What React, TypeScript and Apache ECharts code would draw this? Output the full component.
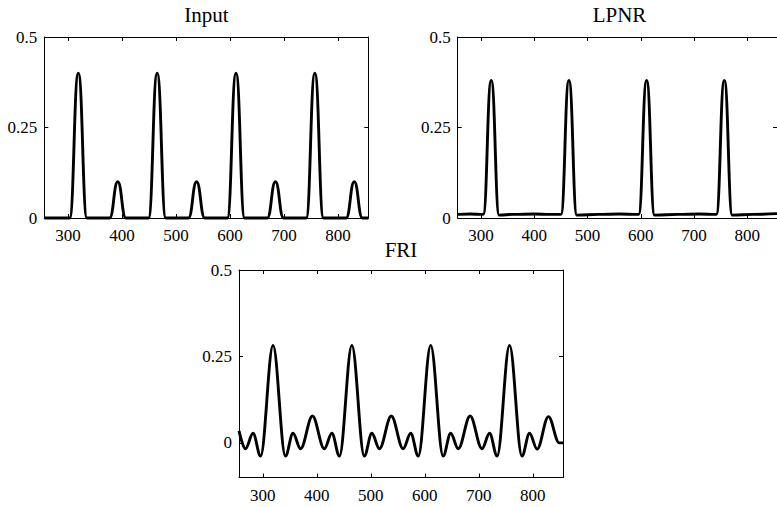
import { useEffect, useRef } from 'react';
import * as echarts from 'echarts';

// ---- data ----
const xTicks = [300, 400, 500, 600, 700, 800];
const yTicks = [0, 0.25, 0.5];
const xMin = 256;
const xMax = 856;
const topYRange = [0, 0.5];
const friYRange = [-0.1, 0.5];
const titles = ['Input', 'LPNR', 'FRI'];

// Input: Gaussian pulses, tall (0.4) and small (0.1)
const inputData: [number, number][] = [
  [256, 0], [303, 0], [319, 0.4], [335, 0],
  [377, 0], [392, 0.1], [407, 0],
  [449, 0], [465, 0.4], [481, 0],
  [523, 0], [538, 0.1], [553, 0],
  [595, 0], [611, 0.4], [627, 0],
  [669, 0], [684, 0.1], [699, 0],
  [741, 0], [757, 0.4], [773, 0],
  [815, 0], [830, 0.1], [845, 0], [856, 0],
];

// LPNR: four pulses on a slightly raised baseline
const lpnrData: [number, number][] = [
  [256, 0.01], [280, 0.011], [304, 0.01], [319, 0.38], [334, 0.008],
  [360, 0.01], [400, 0.011], [430, 0.01], [450, 0.01], [465, 0.38], [480, 0.008],
  [520, 0.01], [560, 0.011], [596, 0.01], [611, 0.38], [626, 0.008],
  [670, 0.01], [710, 0.011], [742, 0.01], [757, 0.38], [772, 0.008],
  [810, 0.01], [856, 0.012],
];

// FRI: oscillating reconstruction (extrema)
const friData: [number, number][] = [
  [256, 0.035], [268, -0.017], [282, 0.028], [296, -0.038], [319, 0.282],
  [342, -0.038], [356, 0.028], [370, -0.017], [392, 0.078], [414, -0.017],
  [428, 0.028], [442, -0.038], [465, 0.282], [488, -0.038], [502, 0.028],
  [516, -0.017], [538, 0.078], [560, -0.017], [574, 0.028], [588, -0.038],
  [611, 0.282], [634, -0.038], [648, 0.028], [662, -0.017], [684, 0.078],
  [706, -0.017], [720, 0.028], [734, -0.038], [757, 0.282], [780, -0.038],
  [794, 0.028], [808, -0.018], [829, 0.076], [849, 0.0], [856, 0.0],
];

const FONT = 'Liberation Serif';

export default function App() {
  const ref = useRef<HTMLDivElement>(null);

  useEffect(() => {
    if (!ref.current) return;
    const chart = echarts.init(ref.current, null, { renderer: 'svg' });

    const grids = [
      { left: 44.3, top: 37, width: 324, height: 181 },
      { left: 457.7, top: 37, width: 324, height: 181 },
      { left: 239, top: 270, width: 324, height: 207.5 },
    ];
    const yRanges = [topYRange, topYRange, friYRange];
    const datasets = [inputData, lpnrData, friData];
    const smooths = [0.5, 0.5, 0.36];
    const titlePos = [
      [206.5, 15],
      [619.5, 15],
      [401, 250],
    ];

    const axisLine = { show: true, onZero: false, lineStyle: { color: '#000', width: 1 } };
    const tickBase = { show: true, inside: true, length: 4, lineStyle: { color: '#000', width: 1 } };
    const labelBase = {
      color: '#000', fontFamily: FONT, fontSize: 17, fontWeight: 'normal',
    };

    const xAxis: any[] = [];
    const yAxis: any[] = [];
    const series: any[] = [];
    const graphic: any[] = [];

    grids.forEach((_, i) => {
      xAxis.push({
        type: 'value', gridIndex: i, position: 'bottom', min: xMin, max: xMax,
        axisLine, splitLine: { show: false },
        axisTick: { ...tickBase, customValues: xTicks },
        axisLabel: { ...labelBase, margin: 9, customValues: xTicks },
      });
      xAxis.push({
        type: 'value', gridIndex: i, position: 'top', min: xMin, max: xMax,
        axisLine, splitLine: { show: false },
        axisTick: { ...tickBase, customValues: xTicks },
        axisLabel: { show: false },
      });
      yAxis.push({
        type: 'value', gridIndex: i, position: 'left', min: yRanges[i][0], max: yRanges[i][1],
        axisLine, splitLine: { show: false },
        axisTick: { ...tickBase, customValues: yTicks },
        axisLabel: { ...labelBase, margin: 7, customValues: yTicks },
      });
      yAxis.push({
        type: 'value', gridIndex: i, position: 'right', min: yRanges[i][0], max: yRanges[i][1],
        axisLine, splitLine: { show: false },
        axisTick: { ...tickBase, customValues: yTicks },
        axisLabel: { show: false },
      });
      series.push({
        type: 'line', name: titles[i], xAxisIndex: i * 2, yAxisIndex: i * 2,
        data: datasets[i], showSymbol: false, symbol: 'none',
        smooth: smooths[i], smoothMonotone: 'x', clip: false,
        lineStyle: { color: '#000', width: 2.9 },
        emphasis: { disabled: true },
      });
      graphic.push({
        type: 'text', x: titlePos[i][0], y: titlePos[i][1],
        style: {
          text: titles[i], fill: '#000', fontFamily: FONT, fontSize: 21,
          align: 'center', verticalAlign: 'middle',
          textAlign: 'center', textVerticalAlign: 'middle',
        },
      });
    });

    chart.setOption({
      animation: false,
      backgroundColor: '#fff',
      textStyle: { fontFamily: FONT, color: '#000' },
      grid: grids,
      xAxis,
      yAxis,
      series,
      graphic,
    });

    return () => chart.dispose();
  }, []);

  return (
    <div
      ref={ref}
      style={{ position: 'absolute', left: 0, top: 0, width: 777, height: 507 }}
    />
  );
}
